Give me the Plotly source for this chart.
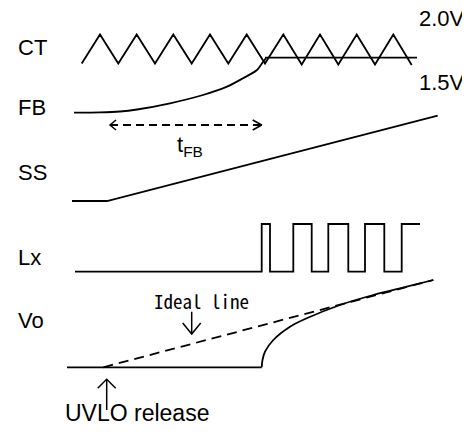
import plotly.graph_objects as go

# ---- diagram data (time axis: arbitrary units, level axis: arbitrary units, top = high) ----
# CT triangle wave vertices
CT_t = [81.7, 100, 118.3, 136.7, 155, 173.3, 191.7, 210, 228.3, 246.7, 265,
        283.3, 301.7, 320, 338.3, 356.7, 375, 393.3, 411.7]
CT_v = [63.5, 34.5, 63.5, 34.5, 63.5, 34.5, 63.5, 34.5, 63.5, 34.5, 63.5,
        34.5, 64.5, 34.5, 64.5, 34.5, 64.5, 34.5, 65]
# 1.5V threshold line
TH_t = [265, 417]
TH_v = [57.7, 57.7]
# FB curve
FB_t = [74, 100, 120, 137, 170, 203, 227, 243, 257, 263, 266]
FB_v = [112.7, 112.4, 111.5, 109.5, 103.3, 95, 86.7, 78.3, 70, 62, 58]
# tFB dashed span
TFB_t = [110, 261.7]
TFB_v = [125, 125]
# SS ramp
SS_t = [72, 107, 437.7]
SS_v = [201, 201, 115.7]
# Lx switching waveform (step: horizontal then vertical)
LX_t = [75, 261.7, 270, 293.3, 311.7, 328.3, 348.3, 365, 384.3, 401.7, 420]
LX_v = [271.7, 224, 271.7, 224, 271.7, 224, 271.7, 224, 271.7, 224, 224]
# Vo actual: flat part, then rising curve
VO_flat_t = [67, 261.7]
VO_flat_v = [367.3, 367.3]
VO_t = [261.7, 262.5, 265, 273.3, 290, 306.7, 340, 373.3, 406.7, 433.3]
VO_v = [367.3, 360, 351.7, 340, 326.7, 318.3, 305, 295, 286.7, 280]
# Vo ideal line
IDEAL_t = [103.3, 433.3]
IDEAL_v = [367.3, 280]

# Signal labels
SIG_names = ["CT", "FB", "SS", "Lx", "Vo"]
SIG_y = [47.5, 107, 172, 257.5, 320]
LVL_names = ["2.0V", "1.5V"]
LVL_y = [18, 82]

BLACK = "black"
LW = 1.8
PAGE_OFFSET = 8  # browser default body margin

fig = go.Figure()


def line(x, y, dash="solid", shape="linear", width=LW, smoothing=1.0):
    fig.add_trace(go.Scatter(x=x, y=y, mode="lines",
                             line=dict(color=BLACK, width=width, dash=dash, shape=shape,
                                       smoothing=smoothing),
                             hoverinfo="skip", showlegend=False))


line(CT_t, CT_v)
line(TH_t, TH_v)
line(FB_t, FB_v, shape="spline", smoothing=0.8)
line(TFB_t, TFB_v, dash="8px,5px")
line(SS_t, SS_v)
line(LX_t, LX_v, shape="hv")
line(VO_flat_t, VO_flat_v)
line(VO_t, VO_v, shape="spline", smoothing=0.8)
line(IDEAL_t, IDEAL_v, dash="10px,6px")


def chevron(tip_x, tip_y, dx, dy):
    line([tip_x + dx, tip_x, tip_x + dx], [tip_y - dy, tip_y, tip_y + dy], width=1.5)


def chevron_v(tip_x, tip_y, half, length):
    line([tip_x - half, tip_x, tip_x + half], [tip_y + length, tip_y, tip_y + length],
         width=1.5)


# tFB arrow heads
chevron(TFB_t[0], TFB_v[0], 6, 5)
chevron(TFB_t[1], TFB_v[1], -9, 5)

# "Ideal line" down arrow
ARR1_x, ARR1_top, ARR1_tip = 191.7, 311.7, 334
line([ARR1_x, ARR1_x], [ARR1_top, ARR1_tip], width=1.5)
chevron_v(ARR1_x, ARR1_tip, 9, -11)
# "UVLO release" up arrow
ARR2_x, ARR2_tip, ARR2_bot = 106.7, 379.3, 410
line([ARR2_x, ARR2_x], [ARR2_bot, ARR2_tip], width=1.5)
chevron_v(ARR2_x, ARR2_tip, 9, 9)

SANS = "Liberation Sans, Arial, sans-serif"
for name, y in zip(SIG_names, SIG_y):
    fig.add_annotation(x=16, y=y, text=name, showarrow=False, xanchor="left",
                       yanchor="middle", font=dict(family=SANS, size=22, color=BLACK))
for name, y in zip(LVL_names, LVL_y):
    fig.add_annotation(x=416.5, y=y, text=name, showarrow=False, xanchor="left",
                       yanchor="middle", font=dict(family=SANS, size=22, color=BLACK))

fig.add_annotation(x=175, y=146, text="t<sub>FB</sub>", showarrow=False, xanchor="left",
                   yanchor="middle", font=dict(family=SANS, size=22, color=BLACK))
fig.add_annotation(x=151.7, y=300.7, text="Ideal line", showarrow=False, xanchor="left",
                   yanchor="middle",
                   font=dict(family="Noto Sans Mono CJK JP, DejaVu Sans Mono, monospace",
                             size=19, color=BLACK))
fig.add_annotation(x=63.3, y=412.5, text="UVLO release", showarrow=False, xanchor="left",
                   yanchor="middle", font=dict(family=SANS, size=23, color=BLACK))

W, H = 470 - PAGE_OFFSET, 439 - 2 * PAGE_OFFSET
fig.update_layout(
    width=W, height=H,
    margin=dict(l=0, r=0, t=0, b=0),
    paper_bgcolor="white", plot_bgcolor="white",
    xaxis=dict(range=[PAGE_OFFSET, PAGE_OFFSET + W], visible=False, fixedrange=True),
    yaxis=dict(range=[PAGE_OFFSET + H, PAGE_OFFSET], visible=False, fixedrange=True),
    showlegend=False,
)

fig.write_html("out.html")
